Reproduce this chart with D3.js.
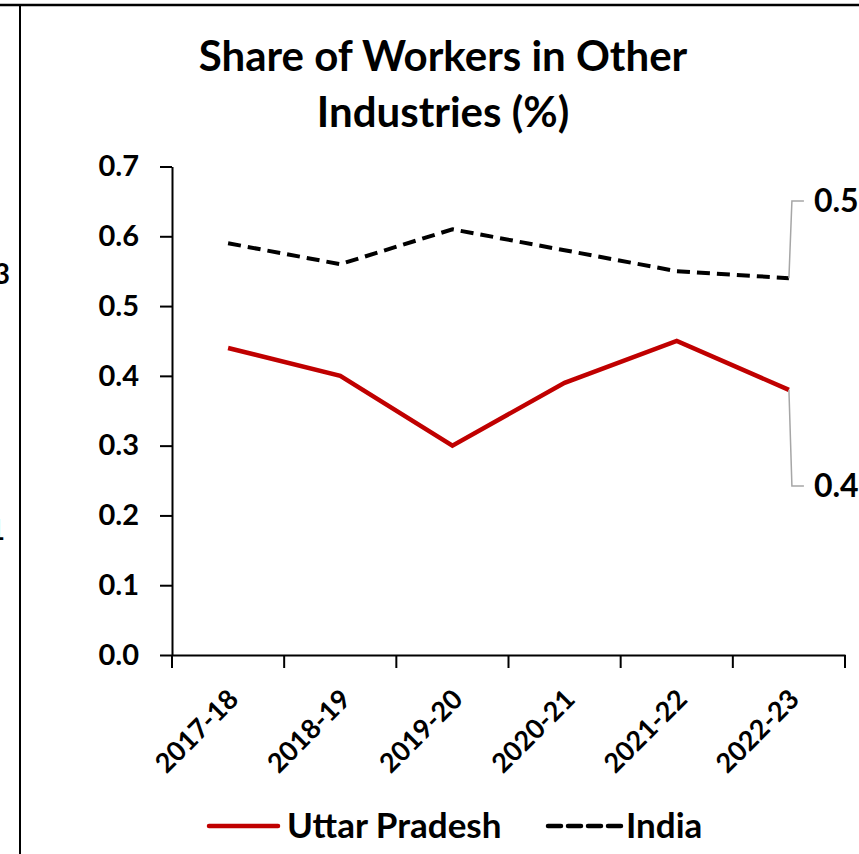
<!DOCTYPE html>
<html>
<head>
<meta charset="utf-8">
<script src="https://cdn.jsdelivr.net/npm/d3@7"></script>
<style>
	body { margin: 0; background: #fff; }
	svg { display: block; font-family: Lato, "Open Sans", sans-serif; font-weight: bold; }
</style>
</head>
<body>
<script>
var years = ["2017-18", "2018-19", "2019-20", "2020-21", "2021-22", "2022-23"]
var uttarPradesh = [0.44, 0.40, 0.30, 0.39, 0.45, 0.38]
var india = [0.59, 0.56, 0.61, 0.58, 0.55, 0.54]
var yTicks = [0, 0.1, 0.2, 0.3, 0.4, 0.5, 0.6, 0.7]
var seriesNames = ["Uttar Pradesh", "India"]

function main() {
	var w = 859
	var h = 854

	var svg = d3.select("body")
		.append("svg")
		.attr("width", w)
		.attr("height", h)

	// frame edges left over from the cropped slide
	svg.append("line")
		.attr("x1", 0).attr("x2", w)
		.attr("y1", 5).attr("y2", 5)
		.attr("stroke", "black").attr("stroke-width", 2.5)
	svg.append("line")
		.attr("x1", 20).attr("x2", 20)
		.attr("y1", 5).attr("y2", h)
		.attr("stroke", "black").attr("stroke-width", 2)

	// neighbouring chart's labels, mostly cut off
	svg.append("text").attr("x", 10).attr("y", 284)
		.attr("text-anchor", "end").style("font-size", "28px").text("0.3")
	svg.append("text").attr("x", 5).attr("y", 540)
		.attr("text-anchor", "end").style("font-size", "28px").text("0.1")

	// Scales
	var xScale = d3.scaleBand()
		.domain(years)
		.range([172, 845])
		.padding(0)

	var yScale = d3.scaleLinear()
		.domain([0, 0.7])
		.range([655, 166.5])

	// Title
	var title = svg.append("text")
		.attr("text-anchor", "middle")
		.style("font-size", "42px")
	title.append("tspan").attr("x", 443).attr("y", 71).text("Share of Workers in Other")
	title.append("tspan").attr("x", 443).attr("y", 127).text("Industries (%)")

	// Y axis
	var yAxis = d3.axisLeft(yScale)
		.tickValues(yTicks)
		.tickFormat(d3.format(".1f"))
		.tickSize(12)
		.tickSizeOuter(0)
		.tickPadding(21)

	var yg = svg.append("g")
		.attr("transform", "translate(172,0)")
		.call(yAxis)
	yg.select(".domain").attr("stroke-width", 2)
	yg.selectAll(".tick line").attr("stroke-width", 2)
	yg.selectAll("text")
		.style("font-family", "Lato, sans-serif")
		.style("font-weight", "bold")
		.style("font-size", "29px")
		.attr("fill", "black")

	// X axis: labels only, ticks drawn at band edges
	var xAxis = d3.axisBottom(xScale).tickSize(0).tickPadding(0)
	var xg = svg.append("g")
		.attr("transform", "translate(0,655)")
		.call(xAxis)
	xg.select(".domain").attr("stroke-width", 2)
	xg.selectAll("text")
		.style("font-family", "Lato, sans-serif")
		.style("font-weight", "bold")
		.style("font-size", "27px")
		.attr("fill", "black")
		.attr("text-anchor", "end")
		.attr("dy", 0)
		.attr("transform", "translate(12,46) rotate(-45)")

	var edges = years.map((d) => xScale(d)).concat([xScale.range()[1]])
	svg.append("g").selectAll("line")
		.data(edges)
		.enter().append("line")
		.attr("x1", (d) => d).attr("x2", (d) => d)
		.attr("y1", 655).attr("y2", 668)
		.attr("stroke", "black").attr("stroke-width", 2)

	var cx = (d) => xScale(d) + xScale.bandwidth() / 2
	var line = d3.line()
		.x((d, i) => cx(years[i]))
		.y((d) => yScale(d))

	svg.append("path")
		.datum(india)
		.attr("d", line)
		.attr("fill", "none")
		.attr("stroke", "black")
		.attr("stroke-width", 4)
		.attr("stroke-dasharray", "13,7")

	svg.append("path")
		.datum(uttarPradesh)
		.attr("d", line)
		.attr("fill", "none")
		.attr("stroke", "#c00000")
		.attr("stroke-width", 4.5)

	// End labels with leader lines
	var last = years.length - 1
	var endLabels = [
		{ v: india[last], ly: 201 },
		{ v: uttarPradesh[last], ly: 486 }
	]
	var ex = cx(years[last])
	endLabels.forEach((e) => {
		svg.append("polyline")
			.attr("points", [[ex, yScale(e.v)], [ex + 3, e.ly], [ex + 15, e.ly]].join(" "))
			.attr("fill", "none")
			.attr("stroke", "#a6a6a6")
			.attr("stroke-width", 1.5)
		svg.append("text")
			.attr("x", ex + 25)
			.attr("y", e.ly)
			.attr("dy", "0.35em")
			.style("font-size", "32px")
			.text(d3.format(".1f")(e.v))
	})

	// Legend
	var legend = svg.append("g")
	legend.append("line")
		.attr("x1", 209).attr("x2", 278)
		.attr("y1", 826).attr("y2", 826)
		.attr("stroke", "#c00000").attr("stroke-width", 4.5)
		.attr("stroke-linecap", "round")
	legend.append("text")
		.attr("x", 287).attr("y", 838)
		.style("font-size", "35px")
		.text(seriesNames[0])
	legend.append("line")
		.attr("x1", 548).attr("x2", 622)
		.attr("y1", 826).attr("y2", 826)
		.attr("stroke", "black").attr("stroke-width", 4.5)
		.attr("stroke-dasharray", "13,7")
		.attr("stroke-linecap", "round")
	legend.append("text")
		.attr("x", 626).attr("y", 838)
		.style("font-size", "35px")
		.text(seriesNames[1])
}

main()
</script>
</body>
</html>
